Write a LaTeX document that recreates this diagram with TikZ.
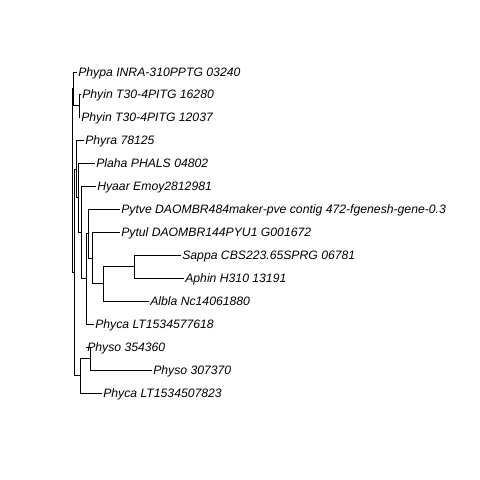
\documentclass[tikz,border=0pt]{standalone}
\usepackage{fontspec}
\setmainfont{Liberation Sans}

\begin{document}
\begin{tikzpicture}[x=1pt,y=-1pt,line width=0.6pt,
	tip/.style={anchor=west,inner sep=1pt,text height=8.7pt,text depth=0pt,
		font=\itshape\fontsize{12.2}{14}\selectfont}]
	\useasboundingbox (0,0) rectangle (480,480);
	% tips
	\node[tip] (phypa) at (77,72) {Phypa INRA-310PPTG 03240};
	\node[tip] (phyin_a) at (81,94) {Phyin T30-4PITG 16280};
	\node[tip] (phyin_b) at (80,117) {Phyin T30-4PITG 12037};
	\node[tip] (phyra) at (84,140) {Phyra 78125};
	\node[tip] (plaha) at (95,163) {Plaha PHALS 04802};
	\node[tip] (hyaar) at (96,186) {Hyaar Emoy2812981};
	\node[tip] (pytve) at (120,209) {Pytve DAOMBR484maker-pve contig 472-fgenesh-gene-0.3};
	\node[tip] (pytul) at (120,232) {Pytul DAOMBR144PYU1 G001672};
	\node[tip] (sappa) at (181,255) {Sappa CBS223.65SPRG 06781};
	\node[tip] (aphin) at (184,278) {Aphin H310 13191};
	\node[tip] (albla) at (149,301) {Albla Nc14061880};
	\node[tip] (phyca_a) at (94,324) {Phyca LT1534577618};
	\node[tip] (physo_a) at (86,347) {Physo 354360};
	\node[tip] (physo_b) at (152,370) {Physo 307370};
	\node[tip] (phyca_b) at (102,393) {Phyca LT1534507823};
	% internal nodes
	\coordinate (n_1) at (79,105.5);
	\coordinate (n_2) at (73,88.75);
	\coordinate (n_3) at (134,266.5);
	\coordinate (n_4) at (103,283.75);
	\coordinate (n_5) at (92,257.9);
	\coordinate (n_6) at (88,233.4);
	\coordinate (n_7) at (86,278.7);
	\coordinate (n_8) at (81,232.3);
	\coordinate (n_9) at (78,197.7);
	\coordinate (n_10) at (76,168.8);
	\coordinate (n_11) at (90,358.5);
	\coordinate (n_12) at (80,375.75);
	\coordinate (n_13) at (74,272.3);
	\coordinate (root) at (72,180.5);
	\path[draw]
	 (root) |- (n_2)
	 (root) |- (n_13)
	 (n_2) |- (phypa.west)
	 (n_2) |- (n_1)
	 (n_1) |- (phyin_a.west)
	 (n_1) |- (phyin_b.west)
	 (n_13) |- (n_10)
	 (n_13) |- (n_12)
	 (n_10) |- (phyra.west)
	 (n_10) |- (n_9)
	 (n_9) |- (plaha.west)
	 (n_9) |- (n_8)
	 (n_8) |- (hyaar.west)
	 (n_8) |- (n_7)
	 (n_7) |- (n_6)
	 (n_7) |- (phyca_a.west)
	 (n_6) |- (pytve.west)
	 (n_6) |- (n_5)
	 (n_5) |- (pytul.west)
	 (n_5) |- (n_4)
	 (n_4) |- (n_3)
	 (n_4) |- (albla.west)
	 (n_3) |- (sappa.west)
	 (n_3) |- (aphin.west)
	 (n_12) |- (n_11)
	 (n_12) |- (phyca_b.west)
	 (n_11) |- (physo_a.west)
	 (n_11) |- (physo_b.west);
\end{tikzpicture}
\end{document}
